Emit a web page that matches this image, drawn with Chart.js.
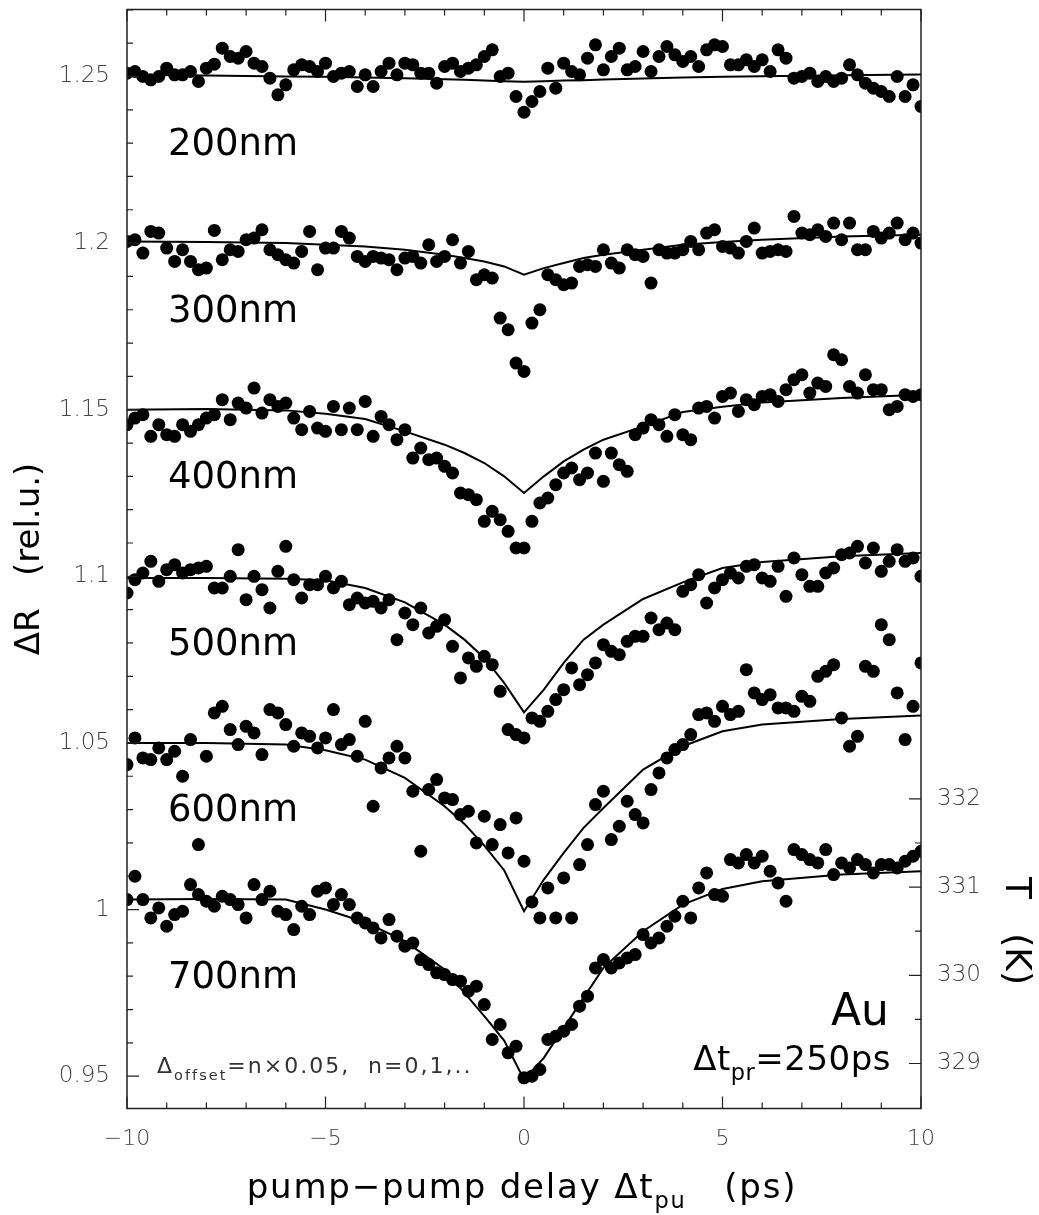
<!DOCTYPE html>
<html>
<head>
<meta charset="utf-8">
<script src="https://cdn.jsdelivr.net/npm/chart.js@4.4.1/dist/chart.umd.min.js"></script>
<style>
  html, body { margin: 0; padding: 0; background: #fff; }
  #wrap { width: 1039px; height: 1215px; }
</style>
</head>
<body>
<div id="wrap"><canvas id="chart"></canvas></div>
<script>
// pump-pump delay of every measured point (ps)
const delays = [
  -10, -9.8, -9.6, -9.4, -9.2, -9, -8.8, -8.6, -8.4, -8.2,
  -8, -7.8, -7.6, -7.4, -7.2, -7, -6.8, -6.6, -6.4, -6.2,
  -6, -5.8, -5.6, -5.4, -5.2, -5, -4.8, -4.6, -4.4, -4.2,
  -4, -3.8, -3.6, -3.4, -3.2, -3, -2.8, -2.6, -2.4, -2.2,
  -2, -1.8, -1.6, -1.4, -1.2, -1, -0.8, -0.6, -0.4, -0.2,
  0, 0.2, 0.4, 0.6, 0.8, 1, 1.2, 1.4, 1.6, 1.8,
  2, 2.2, 2.4, 2.6, 2.8, 3, 3.2, 3.4, 3.6, 3.8,
  4, 4.2, 4.4, 4.6, 4.8, 5, 5.2, 5.4, 5.6, 5.8,
  6, 6.2, 6.4, 6.6, 6.8, 7, 7.2, 7.4, 7.6, 7.8,
  8, 8.2, 8.4, 8.6, 8.8, 9, 9.2, 9.4, 9.6, 9.8,
  10
];

// measured dR, already shifted by n x 0.05
const r200 = [
  1.2510, 1.2515, 1.2500, 1.2490, 1.2500, 1.2525, 1.2505, 1.2505, 1.2515, 1.2485,
  1.2525, 1.2537, 1.2585, 1.2560, 1.2555, 1.2575, 1.2540, 1.2530, 1.2495, 1.2445,
  1.2475, 1.2520, 1.2535, 1.2530, 1.2515, 1.2540, 1.2500, 1.2510, 1.2515, 1.2470,
  1.2505, 1.2470, 1.2515, 1.2540, 1.2505, 1.2540, 1.2535, 1.2510, 1.2510, 1.2480,
  1.2530, 1.2540, 1.2515, 1.2525, 1.2535, 1.2560, 1.2580, 1.2500, 1.2510, 1.2440,
  1.2393, 1.2425, 1.2455, 1.2525, 1.2465, 1.2540, 1.2515, 1.2505, 1.2555, 1.2595,
  1.2520, 1.2560, 1.2585, 1.2520, 1.2530, 1.2575, 1.2515, 1.2560, 1.2590, 1.2565,
  1.2545, 1.2560, 1.2530, 1.2580, 1.2595, 1.2590, 1.2535, 1.2535, 1.2550, 1.2530,
  1.2550, 1.2515, 1.2580, 1.2555, 1.2495, 1.2500, 1.2510, 1.2485, 1.2500, 1.2485,
  1.2495, 1.2535, 1.2505, 1.2480, 1.2465, 1.2455, 1.2440, 1.2500, 1.2440, 1.2475,
  1.2410
];
const r300 = [
  1.2005, 1.2010, 1.1970, 1.2035, 1.2030, 1.1985, 1.1945, 1.1980, 1.1945, 1.1920,
  1.1925, 1.2038, 1.1950, 1.1980, 1.1975, 1.2010, 1.2015, 1.2040, 1.1980, 1.1965,
  1.1950, 1.1940, 1.1975, 1.2035, 1.1920, 1.1985, 1.1985, 1.2035, 1.2015, 1.1960,
  1.1945, 1.1960, 1.1955, 1.1950, 1.1920, 1.1955, 1.1960, 1.1940, 1.1995, 1.1945,
  1.1960, 1.2010, 1.1940, 1.1975, 1.1890, 1.1905, 1.1895, 1.1775, 1.1740, 1.1640,
  1.1615, 1.1760, 1.1800, 1.1905, 1.1890, 1.1875, 1.1880, 1.1930, 1.1935, 1.1930,
  1.1980, 1.1940, 1.1925, 1.1980, 1.1965, 1.1960, 1.1880, 1.1980, 1.1970, 1.1970,
  1.1980, 1.2005, 1.1980, 1.2030, 1.2040, 1.1990, 1.1985, 1.1970, 1.2005, 1.2045,
  1.1970, 1.1975, 1.1980, 1.1975, 1.2080, 1.2030, 1.2025, 1.2040, 1.2020, 1.2060,
  1.2010, 1.2060, 1.1980, 1.1980, 1.2035, 1.2015, 1.2030, 1.2060, 1.2010, 1.2030,
  1.2000
];
const r400 = [
  1.1455, 1.1475, 1.1485, 1.1420, 1.1455, 1.1425, 1.1420, 1.1455, 1.1435, 1.1455,
  1.1475, 1.1485, 1.1530, 1.1470, 1.1520, 1.1505, 1.1565, 1.1490, 1.1530, 1.1510,
  1.1520, 1.1475, 1.1440, 1.1495, 1.1445, 1.1435, 1.1510, 1.1440, 1.1505, 1.1440,
  1.1525, 1.1420, 1.1480, 1.1455, 1.1410, 1.1440, 1.1355, 1.1385, 1.1350, 1.1355,
  1.1330, 1.1310, 1.1250, 1.1245, 1.1230, 1.1165, 1.1195, 1.1170, 1.1135, 1.1085,
  1.1085, 1.1165, 1.1220, 1.1235, 1.1275, 1.1310, 1.1325, 1.1290, 1.1310, 1.1370,
  1.1285, 1.1370, 1.1335, 1.1315, 1.1425, 1.1445, 1.1470, 1.1455, 1.1420, 1.1485,
  1.1425, 1.1410, 1.1505, 1.1510, 1.1475, 1.1540, 1.1550, 1.1495, 1.1530, 1.1515,
  1.1540, 1.1545, 1.1525, 1.1560, 1.1590, 1.1605, 1.1550, 1.1580, 1.1570, 1.1665,
  1.1650, 1.1570, 1.1550, 1.1605, 1.1560, 1.1560, 1.1500, 1.1510, 1.1545, 1.1540,
  1.1545
];
const r500 = [
  1.0950, 1.0990, 1.1010, 1.1045, 1.0985, 1.1020, 1.1035, 1.1010, 1.1020, 1.1025,
  1.1030, 1.0965, 1.0965, 1.1000, 1.1080, 1.0930, 1.1000, 1.0960, 1.0905, 1.1015,
  1.1090, 1.0990, 1.0935, 1.0975, 1.0975, 1.1000, 1.0965, 1.0985, 1.0915, 1.0935,
  1.0920, 1.0925, 1.0905, 1.0930, 1.0810, 1.0890, 1.0855, 1.0905, 1.0830, 1.0850,
  1.0870, 1.0790, 1.0695, 1.0755, 1.0730, 1.0760, 1.0735, 1.0655, 1.0540, 1.0525,
  1.0515, 1.0575, 1.0565, 1.0595, 1.0630, 1.0660, 1.0725, 1.0675, 1.0705, 1.0740,
  1.0795, 1.0775, 1.0765, 1.0805, 1.0820, 1.0820, 1.0875, 1.0840, 1.0860, 1.0840,
  1.0955, 1.0975, 1.1005, 1.0920, 1.0965, 1.0990, 1.1010, 1.0995, 1.1030, 1.1035,
  1.0995, 1.0985, 1.1030, 1.0940, 1.1055, 1.1005, 1.0970, 1.0970, 1.1010, 1.1025,
  1.1065, 1.1070, 1.1090, 1.1040, 1.1085, 1.1015, 1.1045, 1.1080, 1.1045, 1.1055,
  1.1000
];
const r600 = [
  1.0435, 1.0515, 1.0455, 1.0450, 1.0485, 1.0450, 1.0475, 1.0400, 1.0510, 1.0195,
  1.0460, 1.0590, 1.0610, 1.0540, 1.0495, 1.0550, 1.0530, 1.0465, 1.0600, 1.0590,
  1.0555, 1.0490, 1.0530, 1.0520, 1.0485, 1.0515, 1.0600, 1.0495, 1.0510, 1.0460,
  1.0565, 1.0310, 1.0425, 1.0455, 1.0490, 1.0455, 1.0355, 1.0175, 1.0360, 1.0390,
  1.0335, 1.0330, 1.0285, 1.0295, 1.0200, 1.0280, 1.0195, 1.0255, 1.0170, 1.0275,
  1.0145, 1.0023, 0.9975, 1.0065, 0.9975, 1.0095, 0.9975, 1.0135, 1.0195, 1.0315,
  1.0355, 1.0210, 1.0250, 1.0325, 1.0285, 1.0260, 1.0360, 1.0410, 1.0455, 1.0480,
  1.0495, 1.0525, 1.0585, 1.0590, 1.0565, 1.0610, 1.0585, 1.0595, 1.0720, 1.0650,
  1.0630, 1.0645, 1.0605, 1.0605, 1.0595, 1.0640, 1.0625, 1.0700, 1.0715, 1.0735,
  1.0575, 1.0490, 1.0520, 1.0730, 1.0715, 1.0855, 1.0810, 1.0650, 1.0510, 1.0610,
  1.0740
];
const r700 = [
  1.0030, 1.0100, 1.0030, 0.9975, 1.0005, 0.9950, 0.9985, 0.9995, 1.0075, 1.0045,
  1.0025, 1.0010, 1.0040, 1.0030, 1.0015, 0.9975, 1.0075, 1.0030, 1.0055, 0.9995,
  0.9985, 0.9940, 1.0010, 0.9985, 1.0055, 1.0065, 1.0015, 1.0045, 1.0015, 0.9975,
  0.9960, 0.9945, 0.9915, 0.9970, 0.9920, 0.9890, 0.9900, 0.9850, 0.9835, 0.9810,
  0.9805, 0.9790, 0.9785, 0.9755, 0.9770, 0.9715, 0.9610, 0.9655, 0.9570, 0.9590,
  0.9495, 0.9500, 0.9520, 0.9610, 0.9620, 0.9635, 0.9655, 0.9710, 0.9740, 0.9825,
  0.9850, 0.9825, 0.9840, 0.9855, 0.9865, 0.9925, 0.9900, 0.9915, 0.9950, 0.9980,
  1.0025, 0.9975, 1.0065, 1.0110, 1.0045, 1.0040, 1.0150, 1.0140, 1.0165, 1.0140,
  1.0160, 1.0115, 1.0080, 1.0025, 1.0180, 1.0165, 1.0150, 1.0140, 1.0180, 1.0105,
  1.0140, 1.0125, 1.0150, 1.0135, 1.0110, 1.0135, 1.0135, 1.0125, 1.0145, 1.0160,
  1.0175
];

// model curves (solid lines)
const fitDelays = [-10, -8, -6, -5, -4, -3, -2, -1.5, -1, -0.5, 0, 0.5, 1, 1.5, 2, 3, 4, 5, 6, 8, 10];
const fit200 = [1.2505, 1.2503, 1.2500, 1.2499, 1.2497, 1.2495, 1.2492, 1.2490, 1.2488, 1.2486, 1.2484, 1.2486, 1.2488, 1.2489, 1.2491, 1.2494, 1.2497, 1.2499, 1.2501, 1.2504, 1.2506];
const fit300 = [1.2005, 1.2003, 1.2000, 1.1995, 1.1990, 1.1980, 1.1965, 1.1955, 1.1945, 1.1930, 1.1905, 1.1925, 1.1940, 1.1955, 1.1965, 1.1980, 1.1995, 1.2003, 1.2010, 1.2020, 1.2025];
const fit400 = [1.1500, 1.1502, 1.1498, 1.1488, 1.1472, 1.1435, 1.1395, 1.1370, 1.1340, 1.1300, 1.1250, 1.1300, 1.1345, 1.1380, 1.1410, 1.1450, 1.1493, 1.1509, 1.1522, 1.1535, 1.1545];
const fit500 = [1.0995, 1.0995, 1.0993, 1.0988, 1.0965, 1.0922, 1.0855, 1.0810, 1.0755, 1.0680, 1.0592, 1.0660, 1.0740, 1.0810, 1.0855, 1.0932, 1.0982, 1.1025, 1.1043, 1.1060, 1.1070];
const fit600 = [1.0500, 1.0500, 1.0495, 1.0478, 1.0450, 1.0395, 1.0310, 1.0257, 1.0192, 1.0118, 0.9995, 1.0090, 1.0170, 1.0245, 1.0305, 1.0420, 1.0490, 1.0535, 1.0555, 1.0572, 1.0582];
const fit700 = [1.0030, 1.0032, 1.0030, 1.0000, 0.9962, 0.9905, 0.9820, 0.9750, 0.9680, 0.9607, 0.9490, 0.9555, 0.9645, 0.9735, 0.9825, 0.9935, 1.0015, 1.0062, 1.0085, 1.0105, 1.0115];

const seriesLabels = ['200nm', '300nm', '400nm', '500nm', '600nm', '700nm'];
const offsets = [1.25, 1.2, 1.15, 1.1, 1.05, 1.0];
const xTicks = [-10, -5, 0, 5, 10];
const yTicks = [0.95, 1, 1.05, 1.1, 1.15, 1.2, 1.25];
const tTicks = [329, 330, 331, 332];

const measured = [r200, r300, r400, r500, r600, r700];
const fits = [fit200, fit300, fit400, fit500, fit600, fit700];

const FONT = '"DejaVu Sans", "Liberation Sans", sans-serif';

// text with subscripts, drawn left to right
function drawRich(ctx, parts, x, y, size, align, spacing) {
  const subSize = size * 0.66;
  ctx.letterSpacing = (spacing || 0) + 'px';
  let w = 0;
  parts.forEach(p => {
    ctx.font = (p.sub ? subSize : size) + 'px ' + FONT;
    w += ctx.measureText(p.text).width;
  });
  let cx = align === 'right' ? x - w : align === 'center' ? x - w / 2 : x;
  parts.forEach(p => {
    ctx.font = (p.sub ? subSize : size) + 'px ' + FONT;
    ctx.fillText(p.text, cx, p.sub ? y + size * 0.3 : y);
    cx += ctx.measureText(p.text).width;
  });
  ctx.letterSpacing = '0px';
}

// ignore the label overhang Chart.js would reserve at the axis ends
function noPad(s) {
  s.paddingTop = 0;
  s.paddingBottom = 0;
  s.paddingLeft = 0;
  s.paddingRight = 0;
}

const decor = {
  id: 'decor',
  afterDraw(chart) {
    const { ctx, chartArea: a, scales } = chart;
    const x = scales.x, y = scales.y, yT = scales.yT;
    ctx.save();

    // frame
    ctx.strokeStyle = '#222';
    ctx.lineWidth = 1.5;
    ctx.strokeRect(a.left, a.top, a.right - a.left, a.bottom - a.top);

    // inward tick marks
    ctx.lineWidth = 1.2;
    ctx.beginPath();
    for (let t = -10; t <= 10; t++) {
      const px = x.getPixelForValue(t);
      const len = t % 5 === 0 ? 12 : 6;
      ctx.moveTo(px, a.bottom); ctx.lineTo(px, a.bottom - len);
      ctx.moveTo(px, a.top); ctx.lineTo(px, a.top + len);
    }
    for (let k = 94; k <= 127; k++) {
      const v = k / 100;
      if (v < y.min || v > y.max) continue;
      const py = y.getPixelForValue(v);
      const len = k % 5 === 0 ? 12 : 6;
      ctx.moveTo(a.left, py); ctx.lineTo(a.left + len, py);
    }
    for (let k = 0; k <= 6; k++) {
      const T = tTicks[0] + k * 0.5;
      const py = yT.getPixelForValue(T);
      const len = k % 2 === 0 ? 12 : 6;
      ctx.moveTo(a.right, py); ctx.lineTo(a.right - len, py);
    }
    ctx.stroke();

    ctx.fillStyle = '#000';
    ctx.textBaseline = 'alphabetic';
    ctx.textAlign = 'left';

    // series labels
    ctx.font = '37px ' + FONT;
    seriesLabels.forEach((lab, i) => {
      ctx.fillText(lab, 168, y.getPixelForValue(offsets[i]) + 78.5);
    });

    // sample and probe delay
    ctx.font = '44px ' + FONT;
    ctx.textAlign = 'right';
    ctx.fillText('Au', 889, 1025);
    ctx.textAlign = 'left';
    drawRich(ctx, [{ text: 'Δt' }, { text: 'pr', sub: true }, { text: '=250ps' }], 891, 1070, 34, 'right', 0.5);

    // offset note
    ctx.fillStyle = '#333';
    drawRich(ctx, [{ text: 'Δ' }, { text: 'offset', sub: true }, { text: '=n×0.05,  n=0,1,..' }], 157, 1073, 22, 'left', 2);

    // x axis title
    ctx.fillStyle = '#000';
    drawRich(ctx, [{ text: 'pump−pump delay Δt' }, { text: 'pu', sub: true }, { text: '   (ps)' }], 522, 1198, 34, 'center', 1.8);

    // right axis title, reading downwards
    ctx.save();
    ctx.translate(1006, 877);
    ctx.rotate(Math.PI / 2);
    ctx.font = '36px ' + FONT;
    ctx.textAlign = 'left';
    ctx.fillText('T   (K)', 0, 0);
    ctx.restore();

    ctx.restore();
  }
};

const datasets = [];
measured.forEach((vals, i) => {
  datasets.push({
    type: 'scatter',
    label: seriesLabels[i],
    data: delays.map((d, j) => ({ x: d, y: vals[j] })),
    pointRadius: 6.5,
    pointHoverRadius: 6.5,
    pointBackgroundColor: '#000',
    pointBorderWidth: 0,
    showLine: false
  });
});
fits.forEach((vals, i) => {
  datasets.push({
    type: 'line',
    label: seriesLabels[i] + ' fit',
    data: fitDelays.map((d, j) => ({ x: d, y: vals[j] })),
    borderColor: '#000',
    borderWidth: 2,
    pointRadius: 0,
    tension: 0,
    fill: false
  });
});

const tickFont = { family: FONT, size: 23, weight: '200' };

new Chart(document.getElementById('chart'), {
  data: { datasets: datasets },
  options: {
    responsive: true,
    maintainAspectRatio: false,
    animation: false,
    devicePixelRatio: 1,
    layout: { padding: { top: 9.5, left: 0, right: 0, bottom: 0 } },
    plugins: { legend: { display: false }, tooltip: { enabled: false } },
    scales: {
      x: {
        type: 'linear',
        position: 'bottom',
        min: -10,
        max: 10,
        grid: { display: false, drawTicks: false },
        border: { display: false },
        afterBuildTicks: s => { s.ticks = xTicks.map(v => ({ value: v })); },
        afterFit: s => { s.height = 106.5; noPad(s); },
        ticks: {
          padding: 18,
          color: '#444',
          font: { family: FONT, size: 22, weight: '200' },
          maxRotation: 0,
          callback: v => (v < 0 ? '−' + Math.abs(v) : String(v))
        }
      },
      y: {
        type: 'linear',
        position: 'left',
        min: 0.9403,
        max: 1.2701,
        grid: { display: false, drawTicks: false },
        border: { display: false },
        afterBuildTicks: s => { s.ticks = yTicks.map(v => ({ value: v })); },
        afterFit: s => { s.width = 127; noPad(s); },
        ticks: {
          padding: 17,
          color: '#444',
          font: tickFont,
          callback: v => String(Number(v.toFixed(2)))
        },
        title: {
          display: true,
          text: 'ΔR   (rel.u.)',
          color: '#000',
          font: { family: FONT, size: 34 },
          padding: { top: 10, bottom: 0 }
        }
      },
      yT: {
        type: 'linear',
        position: 'right',
        min: 328.49,
        max: 340.95,
        grid: { display: false, drawTicks: false },
        border: { display: false },
        afterBuildTicks: s => { s.ticks = tTicks.map(v => ({ value: v })); },
        afterFit: s => { s.width = 118; noPad(s); },
        ticks: {
          padding: 16,
          color: '#444',
          font: tickFont,
          callback: v => String(v)
        }
      }
    }
  },
  plugins: [decor]
});
</script>
</body>
</html>
